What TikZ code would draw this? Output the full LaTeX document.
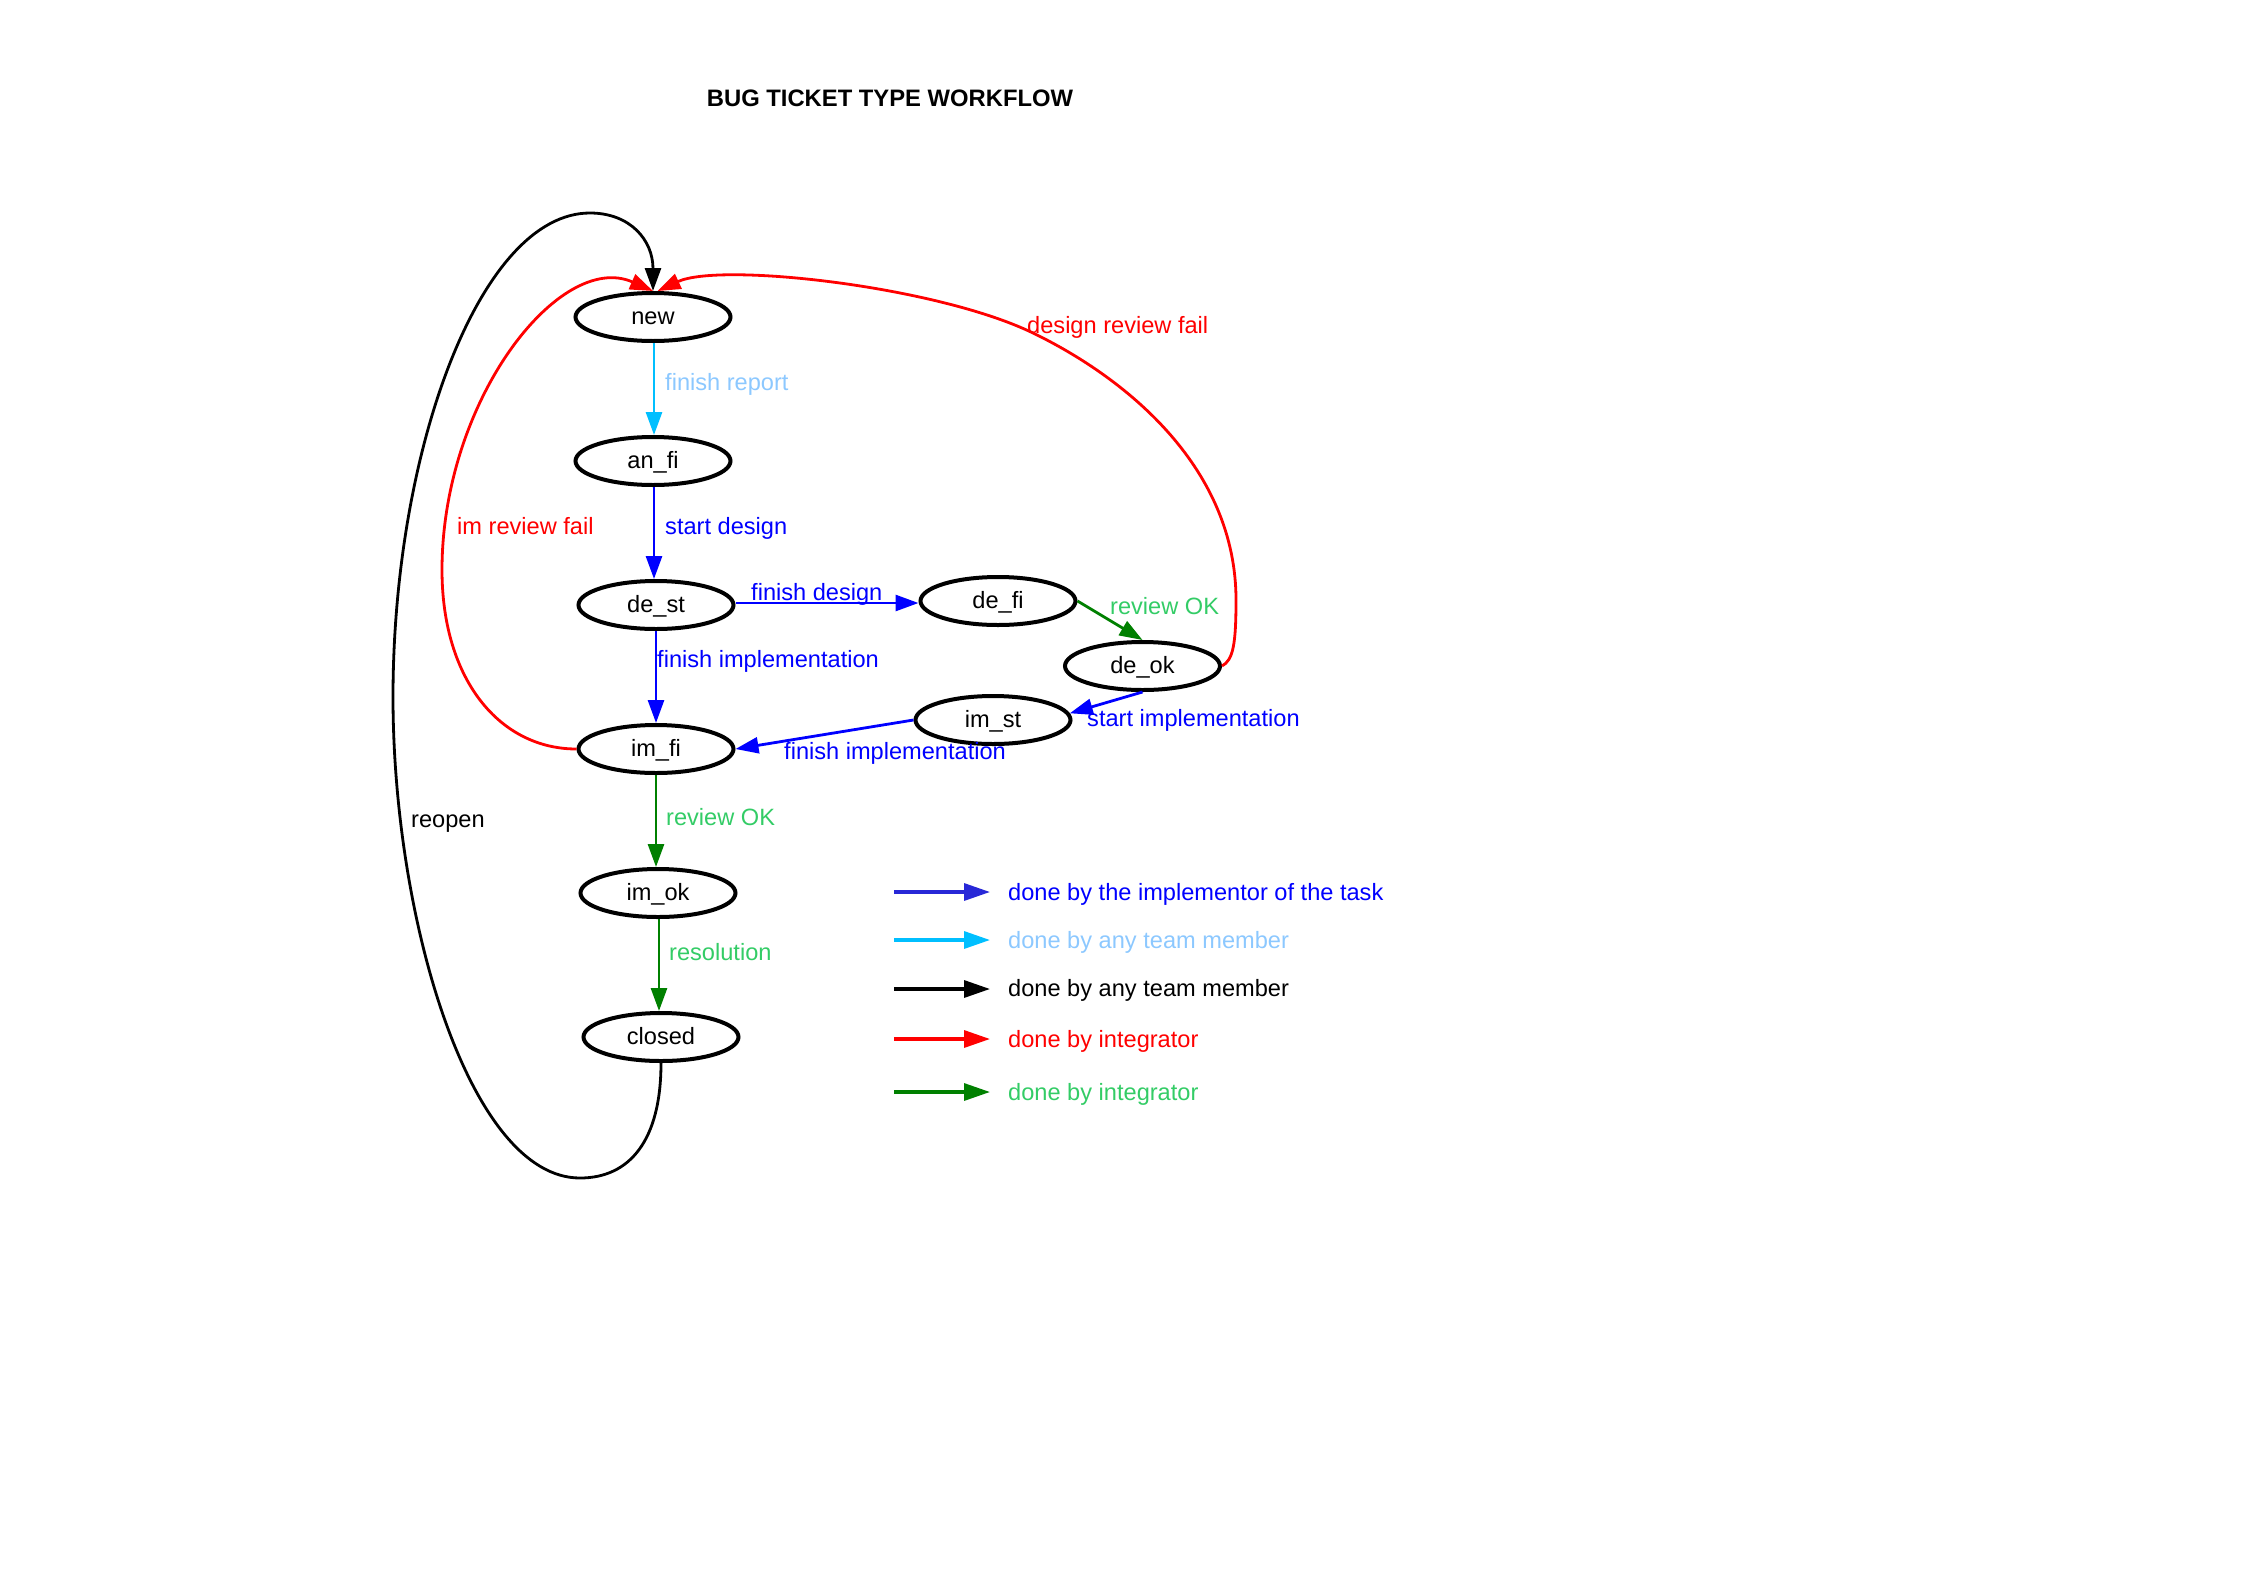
\documentclass[tikz,border=0pt]{standalone}
\usepackage{fontspec}
\setmainfont{Liberation Sans}
\usetikzlibrary{arrows.meta,shapes.geometric}
\definecolor{cblue}{RGB}{0,0,255}
\definecolor{ccyan}{RGB}{0,191,255}
\definecolor{clight}{RGB}{140,200,255}
\definecolor{cgreen}{RGB}{0,128,0}
\definecolor{cgreentext}{RGB}{51,204,102}
\definecolor{cred}{RGB}{255,0,0}
\definecolor{clegblue}{RGB}{40,40,215}
\begin{document}
\begin{tikzpicture}[x=1pt,y=-1pt,
  stnode/.style={ellipse,draw=black,line width=4pt,minimum width=155pt,minimum height=48pt,inner sep=0pt,font=\fontsize{23.6}{28}\selectfont,text height=15.5pt,text depth=1pt},
  lbl/.style={anchor=base west,inner sep=0pt,font=\fontsize{23.6}{28}\selectfont},
  conn/.style={line width=2.8pt,-{Triangle[length=23pt,width=16pt]}},
  legarrow/.style={line width=3.3pt,-{Triangle[length=26pt,width=17pt]}},
]
\useasboundingbox (0,0) rectangle (2245,1587);

\node[anchor=base,inner sep=0pt,font=\fontsize{23.8}{28}\selectfont\bfseries] (title) at (890,106) {BUG TICKET TYPE WORKFLOW};

% states
\node[stnode] (new)    at (653,317) {new};
\node[stnode] (an_fi)  at (653,461) {an\_fi};
\node[stnode] (de_st)  at (656,605) {de\_st};
\node[stnode] (de_fi)  at (998,601) {de\_fi};
\node[stnode] (de_ok)  at (1142.5,666) {de\_ok};
\node[stnode] (im_st)  at (993,720) {im\_st};
\node[stnode] (im_fi)  at (656,749) {im\_fi};
\node[stnode] (im_ok)  at (658,893) {im\_ok};
\node[stnode] (closed) at (661,1037) {closed};

% straight transitions
\draw[conn,ccyan] (new.south) ++(1,0) coordinate (a0) -- (a0 |- an_fi.north);
\draw[conn,cblue] (an_fi.south) ++(1,0) coordinate (a1) -- (a1 |- de_st.north);
\draw[conn,cblue] (de_st.east) ++(0,-2) coordinate (b1) -- (b1 -| de_fi.west);
\draw[conn,cgreen] (de_fi.east) -- (de_ok.north);
\draw[conn,cblue] (de_ok.south) -- (im_st.5);
\draw[conn,cblue] (im_st.west) -- (im_fi.east);
\draw[conn,cblue] (de_st.south) -- (de_st.south |- im_fi.north);
\draw[conn,cgreen] (im_fi.south) -- (im_fi.south |- im_ok.north);
\draw[conn,cgreen] (im_ok.south) ++(1,0) coordinate (a2) -- (a2 |- closed.north);

% curved transitions
\draw[conn,black] (closed.south) .. controls (661,1140) and (630,1178) .. (580,1178)
   .. controls (470,1178) and (393,920) .. (393,697)
   .. controls (393,450) and (480,213) .. (590,213)
   .. controls (630,213) and (653,240) .. (new.north);
\draw[conn,cred] (im_fi.west) .. controls (500,749) and (442,680) .. (442,570)
   .. controls (442,400) and (560,250) .. (new.north);
\draw[conn,cred] (de_ok.east) .. controls (1233,660) and (1236,645) .. (1236,600)
   .. controls (1236,470) and (1130,380) .. (1033,333)
   .. controls (936,286) and (720,262) .. (new.80);

% labels
\node[lbl,text=clight] (l_fr) at (665,390) {finish report};
\node[lbl,text=cblue] (l_sd) at (665,534) {start design};
\node[lbl,text=cred] (l_irf) at (457,534) {im review fail};
\node[lbl,text=cblue] (l_fd) at (751,600) {finish design};
\node[lbl,text=cgreentext] (l_rok1) at (1110,614) {review OK};
\node[lbl,text=cblue] (l_fi1) at (657,667) {finish implementation};
\node[lbl,text=cblue] (l_si) at (1087,726) {start implementation};
\node[lbl,text=cblue] (l_fi2) at (784,759) {finish implementation};
\node[lbl,text=cred] (l_drf) at (1027,333) {design review fail};
\node[lbl,text=black] (l_re) at (411,827) {reopen};
\node[lbl,text=cgreentext] (l_rok2) at (666,825) {review OK};
\node[lbl,text=cgreentext] (l_res) at (669,960) {resolution};

% legend
\coordinate (g1a) at (894,892);  \coordinate (g1b) at (990,892);
\coordinate (g2a) at (894,940);  \coordinate (g2b) at (990,940);
\coordinate (g3a) at (894,989);  \coordinate (g3b) at (990,989);
\coordinate (g4a) at (894,1039); \coordinate (g4b) at (990,1039);
\coordinate (g5a) at (894,1092); \coordinate (g5b) at (990,1092);
\draw[legarrow,clegblue] (g1a) -- (g1b);
\draw[legarrow,ccyan] (g2a) -- (g2b);
\draw[legarrow,black] (g3a) -- (g3b);
\draw[legarrow,cred] (g4a) -- (g4b);
\draw[legarrow,cgreen] (g5a) -- (g5b);
\node[lbl,text=cblue] (t1) at (1008,900) {done by the implementor of the task};
\node[lbl,text=clight] (t2) at (1008,948) {done by any team member};
\node[lbl,text=black] (t3) at (1008,996) {done by any team member};
\node[lbl,text=cred] (t4) at (1008,1047) {done by integrator};
\node[lbl,text=cgreentext] (t5) at (1008,1100) {done by integrator};
\end{tikzpicture}
\end{document}
